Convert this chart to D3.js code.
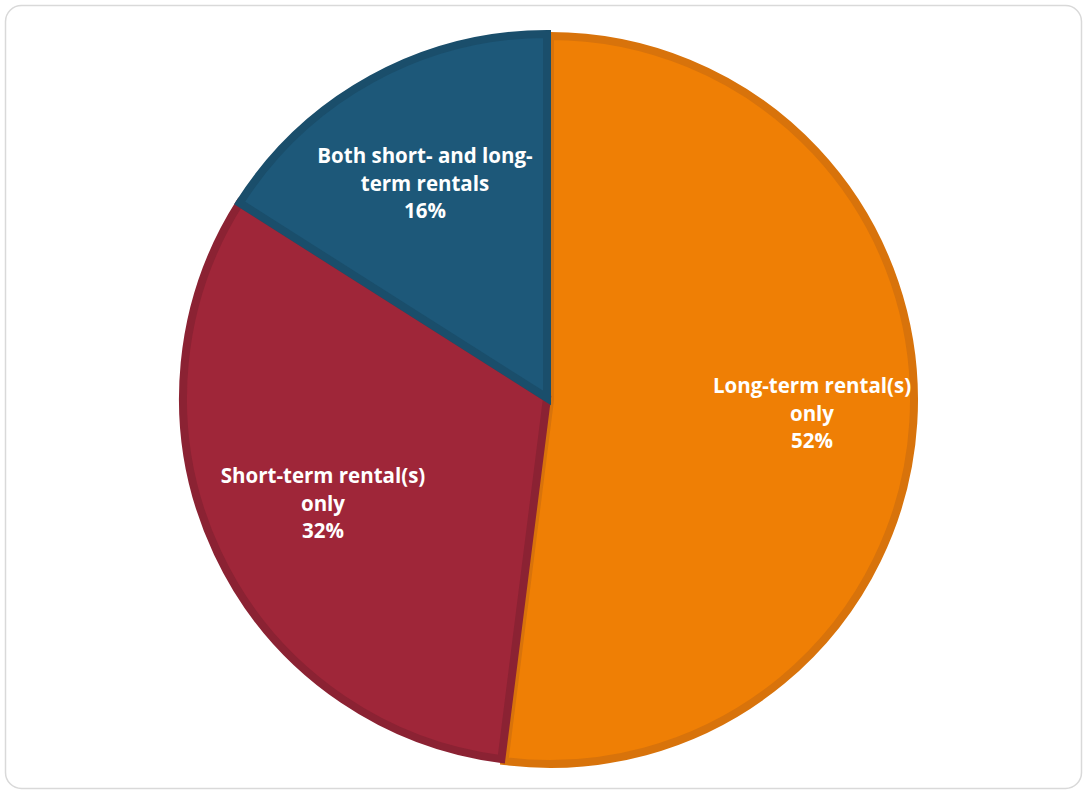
<!DOCTYPE html>
<html><head><meta charset="utf-8">
<script src="https://cdn.jsdelivr.net/npm/d3@7"></script>
<style>html,body{margin:0;padding:0;background:#fff;}svg{display:block;}</style>
</head><body>
<svg id="chart" width="1084" height="791"></svg>
<script>
const categories = ["Long-term rental(s) only", "Short-term rental(s) only", "Both short- and long-term rentals"];
const values = [52, 32, 16];
const labelLines = [["Long-term rental(s)", "only"], ["Short-term rental(s)", "only"], ["Both short- and long-", "term rentals"]];
const fills = ["#EF7F05", "#9F2639", "#1D5879"];
const strokes = ["#D8730B", "#8B2233", "#1A4E6B"];

const svg = d3.select("#chart");
svg.append("rect").attr("x", 5.5).attr("y", 5.5).attr("width", 1076).attr("height", 783)
  .attr("rx", 16).attr("fill", "#fff").attr("stroke", "#d9d9d9").attr("stroke-width", 1.5);

const cx = 547, cy = 398, r = 364;
const pie = d3.pie().sort(null).value(d => d)(values);
const arc = d3.arc().innerRadius(0).outerRadius(r);
const offsets = [[3, 2], [0, 0], [0, 0]];
const labelPos = [[812, 388], [323, 478], [425, 158]];

const g = svg.append("g").attr("transform", `translate(${cx},${cy})`);
g.selectAll("path.slice").data(pie).join("path")
  .attr("class", "slice")
  .attr("transform", (d, i) => `translate(${offsets[i][0]},${offsets[i][1]})`)
  .attr("d", arc)
  .attr("fill", (d, i) => fills[i])
  .attr("stroke", (d, i) => strokes[i])
  .attr("stroke-width", 8)
  .attr("stroke-linejoin", "miter");

const lab = svg.append("g");
pie.forEach((d, i) => {
  const t = lab.append("text")
    .attr("x", labelPos[i][0]).attr("y", labelPos[i][1])
    .attr("text-anchor", "middle").attr("dominant-baseline", "middle")
    .attr("fill", "#fff").attr("font-family", "'Open Sans', sans-serif")
    .attr("font-weight", "bold").attr("font-size", 20.5);
  const lines = labelLines[i].concat([values[i] + "%"]);
  lines.forEach((ln, j) => {
    t.append("tspan").attr("x", labelPos[i][0]).attr("y", labelPos[i][1] + j * 27.5).text(ln);
  });
});
</script>
</body></html>
